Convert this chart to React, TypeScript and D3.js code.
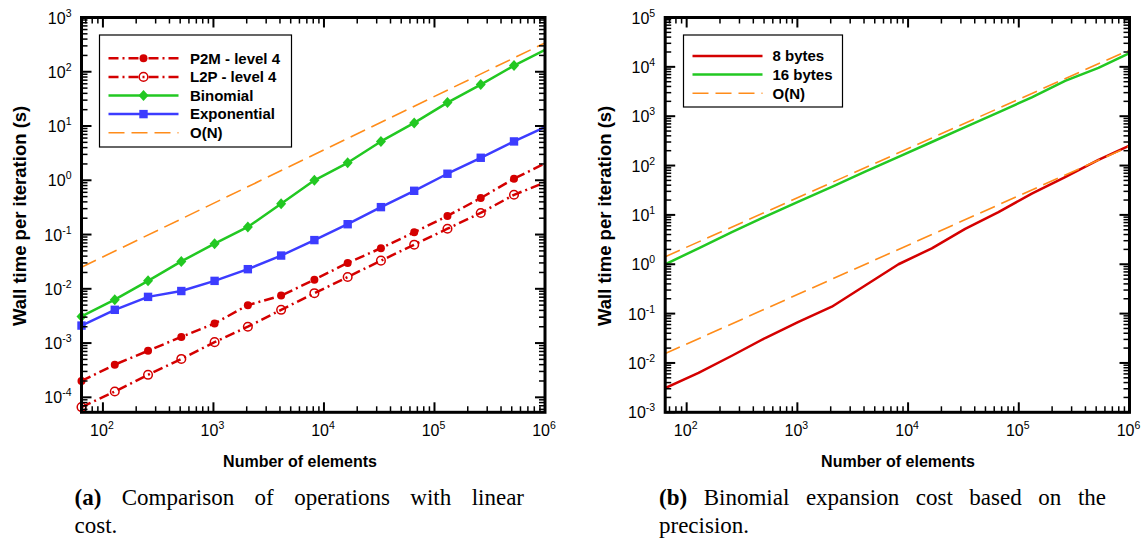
import React from 'react';
import * as d3 from 'd3';

// ---------- DATA ----------
const elements = [64, 128, 256, 512, 1024, 2048, 4096, 8192, 16384, 32768, 65536, 131072, 262144, 524288, 1048576];
const p2mLevel4 = [2.0e-4, 4.0e-4, 7.2e-4, 1.3e-3, 2.3e-3, 5.0e-3, 7.5e-3, 0.0147, 0.030, 0.056, 0.11, 0.22, 0.47, 1.07, 2.15];
const l2pLevel4 = [6.6e-5, 1.28e-4, 2.6e-4, 5.1e-4, 1.04e-3, 2.0e-3, 4.1e-3, 8.3e-3, 0.0165, 0.033, 0.065, 0.128, 0.25, 0.54, 0.95];
const binomial = [3.1e-3, 6.3e-3, 0.014, 0.032, 0.068, 0.138, 0.37, 1.0, 2.1, 5.2, 11.4, 27, 58, 130, 265];
const exponential = [2.1e-3, 4.1e-3, 7.1e-3, 9.1e-3, 0.014, 0.023, 0.041, 0.079, 0.155, 0.32, 0.64, 1.32, 2.6, 5.2, 10];
const bytes8 = [3.1e-3, 6.3e-3, 0.014, 0.032, 0.068, 0.138, 0.37, 1.0, 2.1, 5.2, 11.4, 27, 58, 130, 265];
const bytes16 = [1.0, 2.1, 4.5, 9.2, 18.5, 37, 75, 150, 300, 600, 1200, 2400, 5200, 9500, 20000];
const onX = [64, 1e6];
const onLeft = [0.025, 340];
const onRightHigh = [1.42, 2.2e4];
const onRightLow = [0.0155, 245];

const legendA = ['P2M - level 4', 'L2P - level 4', 'Binomial', 'Exponential', 'O(N)'];
const legendB = ['8 bytes', '16 bytes', 'O(N)'];
const captionA = ['Comparison of operations with linear', 'cost.'];
const captionB = ['Binomial expansion cost based on the', 'precision.'];
const xTickExps = [2, 3, 4, 5, 6];
const yTickExpsA = [-4, -3, -2, -1, 0, 1, 2, 3];
const yTickExpsB = [-3, -2, -1, 0, 1, 2, 3, 4, 5];

// ---------- STYLE ----------
const RED = '#d40000';
const GREEN = '#22c822';
const BLUE = '#3c3cff';
const ORANGE = '#ff8c1a';
const SANS = "'Liberation Sans', Arial, Helvetica, sans-serif";
const SERIF = "'Liberation Serif', 'Times New Roman', serif";
const DASHDOT = '10,4,2,4';
const LONGDASH = '16,7';

type Series = { name: string; values: number[]; xs: number[]; color: string; dash?: string; marker?: string; width: number };

function logTicks(domain: number[]) {
  const [a, b] = domain;
  const majors: number[] = [];
  const minors: number[] = [];
  for (let e = Math.floor(Math.log10(a)) - 1; e <= Math.ceil(Math.log10(b)); e++) {
    for (let m = 1; m <= 9; m++) {
      const v = m * Math.pow(10, e);
      if (v < a * 0.9999 || v > b * 1.0001) continue;
      if (m === 1) majors.push(v);
      else minors.push(v);
    }
  }
  return { majors, minors };
}

function Marker({ type, x, y, color }: { type?: string; x: number; y: number; color: string }) {
  if (type === 'dot') return <circle cx={x} cy={y} r={4} fill={color} />;
  if (type === 'ring') return <circle cx={x} cy={y} r={4.3} fill="none" stroke={color} strokeWidth={1.5} />;
  if (type === 'diamond') return <path d={`M${x},${y - 5.5}L${x + 5},${y}L${x},${y + 5.5}L${x - 5},${y}Z`} fill={color} />;
  if (type === 'square') return <rect x={x - 4.2} y={y - 4.2} width={8.4} height={8.4} fill={color} />;
  return null;
}

function measure(text: string, font: string) {
  const c = document.createElement('canvas').getContext('2d')!;
  c.font = font;
  return c.measureText(text).width;
}

function Caption({ label, lines, x0, x1, y }: { label: string; lines: string[]; x0: number; x1: number; y: number }) {
  const size = 23;
  const regFont = `${size}px ${SERIF}`;
  const boldFont = `bold ${size}px ${SERIF}`;
  const words = [`(${label})`, ...lines[0].split(' ')];
  const widths = words.map((w, i) => measure(w, i === 0 ? boldFont : regFont));
  const total = widths.reduce((s, w) => s + w, 0);
  const gap = (x1 - x0 - total) / (words.length - 1);
  let cur = x0;
  const pos = widths.map((w) => {
    const p = cur;
    cur += w + gap;
    return p;
  });
  return (
    <g fontFamily={SERIF} fontSize={size} fill="#000">
      {words.map((w, i) => (
        <text key={i} x={pos[i]} y={y} fontWeight={i === 0 ? 'bold' : 'normal'}>{w}</text>
      ))}
      <text x={x0} y={y + 28}>{lines[1]}</text>
    </g>
  );
}

function Panel({
  x0, x1, y0, y1, yDomain, yTicks, series, legend, legendBox, yTitleX, xTitleX, clipId,
}: {
  x0: number; x1: number; y0: number; y1: number; yDomain: number[]; yTicks: number[];
  series: Series[]; legend: { name: string; color: string; dash?: string; marker?: string; width: number }[];
  legendBox: { x: number; y: number; w: number; h: number; rowH: number; firstY: number; textDx: number };
  yTitleX: number; xTitleX: number; clipId: string;
}) {
  const xDomain = [64, 1e6];
  const x = d3.scaleLog().domain(xDomain).range([x0, x1]);
  const y = d3.scaleLog().domain(yDomain).range([y1, y0]);
  const xt = logTicks(xDomain);
  const yt = logTicks(yDomain);
  const MAJ = 10;
  const MIN = 6;
  const tickStroke = '#000';
  return (
    <g>
      <defs>
        <clipPath id={clipId}>
          <rect x={x0} y={y0} width={x1 - x0} height={y1 - y0} />
        </clipPath>
      </defs>
      {/* data lines */}
      <g clipPath={`url(#${clipId})`}>
        {series.map((s) => {
          const line = d3.line<number>().x((_, i) => x(s.xs[i])).y((v) => y(v));
          return (
            <path key={s.name} d={line(s.values) || ''} fill="none" stroke={s.color} strokeWidth={s.width}
              strokeDasharray={s.dash} strokeLinejoin="round" />
          );
        })}
      </g>
      {series.map((s) =>
        s.marker
          ? s.values.map((v, i) =>
              s.xs[i] <= 1e6 ? <Marker key={s.name + i} type={s.marker} x={x(s.xs[i])} y={y(v)} color={s.color} /> : null)
          : null,
      )}
      {/* ticks */}
      <g stroke={tickStroke}>
        {xt.majors.map((v) => (
          <g key={'xM' + v} strokeWidth={2}>
            <line x1={x(v)} x2={x(v)} y1={y1} y2={y1 - MAJ} />
            <line x1={x(v)} x2={x(v)} y1={y0} y2={y0 + MAJ} />
          </g>
        ))}
        {xt.minors.map((v) => (
          <g key={'xm' + v} strokeWidth={1.5}>
            <line x1={x(v)} x2={x(v)} y1={y1} y2={y1 - MIN} />
            <line x1={x(v)} x2={x(v)} y1={y0} y2={y0 + MIN} />
          </g>
        ))}
        {yt.majors.map((v) => (
          <g key={'yM' + v} strokeWidth={2}>
            <line x1={x0} x2={x0 + MAJ} y1={y(v)} y2={y(v)} />
            <line x1={x1} x2={x1 - MAJ} y1={y(v)} y2={y(v)} />
          </g>
        ))}
        {yt.minors.map((v) => (
          <g key={'ym' + v} strokeWidth={1.5}>
            <line x1={x0} x2={x0 + MIN} y1={y(v)} y2={y(v)} />
            <line x1={x1} x2={x1 - MIN} y1={y(v)} y2={y(v)} />
          </g>
        ))}
      </g>
      {/* frame */}
      <rect x={x0} y={y0} width={x1 - x0} height={y1 - y0} fill="none" stroke="#000" strokeWidth={3} />
      {/* tick labels */}
      <g fontFamily={SANS} fontSize={16} fill="#000">
        {xTickExps.map((e) => (
          <text key={'xl' + e} x={x(Math.pow(10, e)) - 1} y={y1 + 24} textAnchor="middle">
            10<tspan dy={-7} fontSize={10.5}>{e}</tspan>
          </text>
        ))}
        {yTicks.map((e) => (
          <text key={'yl' + e} x={x0 - 10} y={y(Math.pow(10, e)) + 6} textAnchor="end">
            10<tspan dy={-7} fontSize={10.5}>{e}</tspan>
          </text>
        ))}
      </g>
      {/* axis titles */}
      <text x={xTitleX} y={y1 + 55} textAnchor="middle" fontFamily={SANS} fontWeight="bold" fontSize={16}>Number of elements</text>
      <text transform={`translate(${yTitleX},${(y0 + y1) / 2 + 1}) rotate(-90)`} textAnchor="middle" fontFamily={SANS}
        fontWeight="bold" fontSize={18.5} dy="0.35em">Wall time per iteration (s)</text>
      {/* legend */}
      <g>
        <rect x={legendBox.x} y={legendBox.y} width={legendBox.w} height={legendBox.h} fill="#fff" stroke="#000" strokeWidth={1.2} />
        {legend.map((l, i) => {
          const ly = legendBox.firstY + i * legendBox.rowH;
          const lx0 = legendBox.x + 9;
          const lx1 = legendBox.x + 79;
          return (
            <g key={l.name}>
              <line x1={lx0} x2={lx1} y1={ly} y2={ly} stroke={l.color} strokeWidth={l.width} strokeDasharray={l.dash} />
              {l.marker ? <Marker type={l.marker} x={(lx0 + lx1) / 2} y={ly} color={l.color} /> : null}
              <text x={legendBox.x + legendBox.textDx} y={ly + 5.3} fontFamily={SANS} fontWeight="bold" fontSize={15}>{l.name}</text>
            </g>
          );
        })}
      </g>
    </g>
  );
}

export default function App() {
  const seriesA: Series[] = [
    { name: legendA[0], values: p2mLevel4, xs: elements, color: RED, dash: DASHDOT, marker: 'dot', width: 2.5 },
    { name: legendA[1], values: l2pLevel4, xs: elements, color: RED, dash: DASHDOT, marker: 'ring', width: 2.5 },
    { name: legendA[2], values: binomial, xs: elements, color: GREEN, marker: 'diamond', width: 2.5 },
    { name: legendA[3], values: exponential, xs: elements, color: BLUE, marker: 'square', width: 2.5 },
    { name: legendA[4], values: onLeft, xs: onX, color: ORANGE, dash: LONGDASH, width: 1.6 },
  ];
  const seriesB: Series[] = [
    { name: legendB[0], values: bytes8, xs: elements, color: RED, width: 2.5 },
    { name: legendB[1], values: bytes16, xs: elements, color: GREEN, width: 2.5 },
    { name: 'on-high', values: onRightHigh, xs: onX, color: ORANGE, dash: LONGDASH, width: 1.6 },
    { name: 'on-low', values: onRightLow, xs: onX, color: ORANGE, dash: LONGDASH, width: 1.6 },
  ];
  const legA = seriesA.map((s) => ({ name: s.name, color: s.color, dash: s.dash, marker: s.marker, width: s.width }));
  const legB = [
    { name: legendB[0], color: RED, width: 2.5 },
    { name: legendB[1], color: GREEN, width: 2.5 },
    { name: legendB[2], color: ORANGE, dash: LONGDASH, width: 1.6 },
  ];
  return (
    <svg width={1142} height={538} style={{ position: 'absolute', left: 0, top: 0, background: '#fff' }}>
      <Panel x0={81.5} x1={545} y0={17.5} y1={412.3} yDomain={[Math.pow(10, -4.276), 1e3]} yTicks={yTickExpsA}
        series={seriesA} legend={legA}
        legendBox={{ x: 99.5, y: 35, w: 192, h: 112, rowH: 18.6, firstY: 58.3, textDx: 90.5 }}
        yTitleX={20} xTitleX={300} clipId="clipA" />
      <Panel x0={665.2} x1={1129.5} y0={17.5} y1={412.3} yDomain={[1e-3, 1e5]} yTicks={yTickExpsB}
        series={seriesB} legend={legB}
        legendBox={{ x: 683.5, y: 35, w: 159, h: 72, rowH: 18.6, firstY: 56, textDx: 89 }}
        yTitleX={605} xTitleX={898} clipId="clipB" />
      <Caption label="a" lines={captionA} x0={74.5} x1={524} y={505} />
      <Caption label="b" lines={captionB} x0={659} x1={1106} y={505} />
    </svg>
  );
}
